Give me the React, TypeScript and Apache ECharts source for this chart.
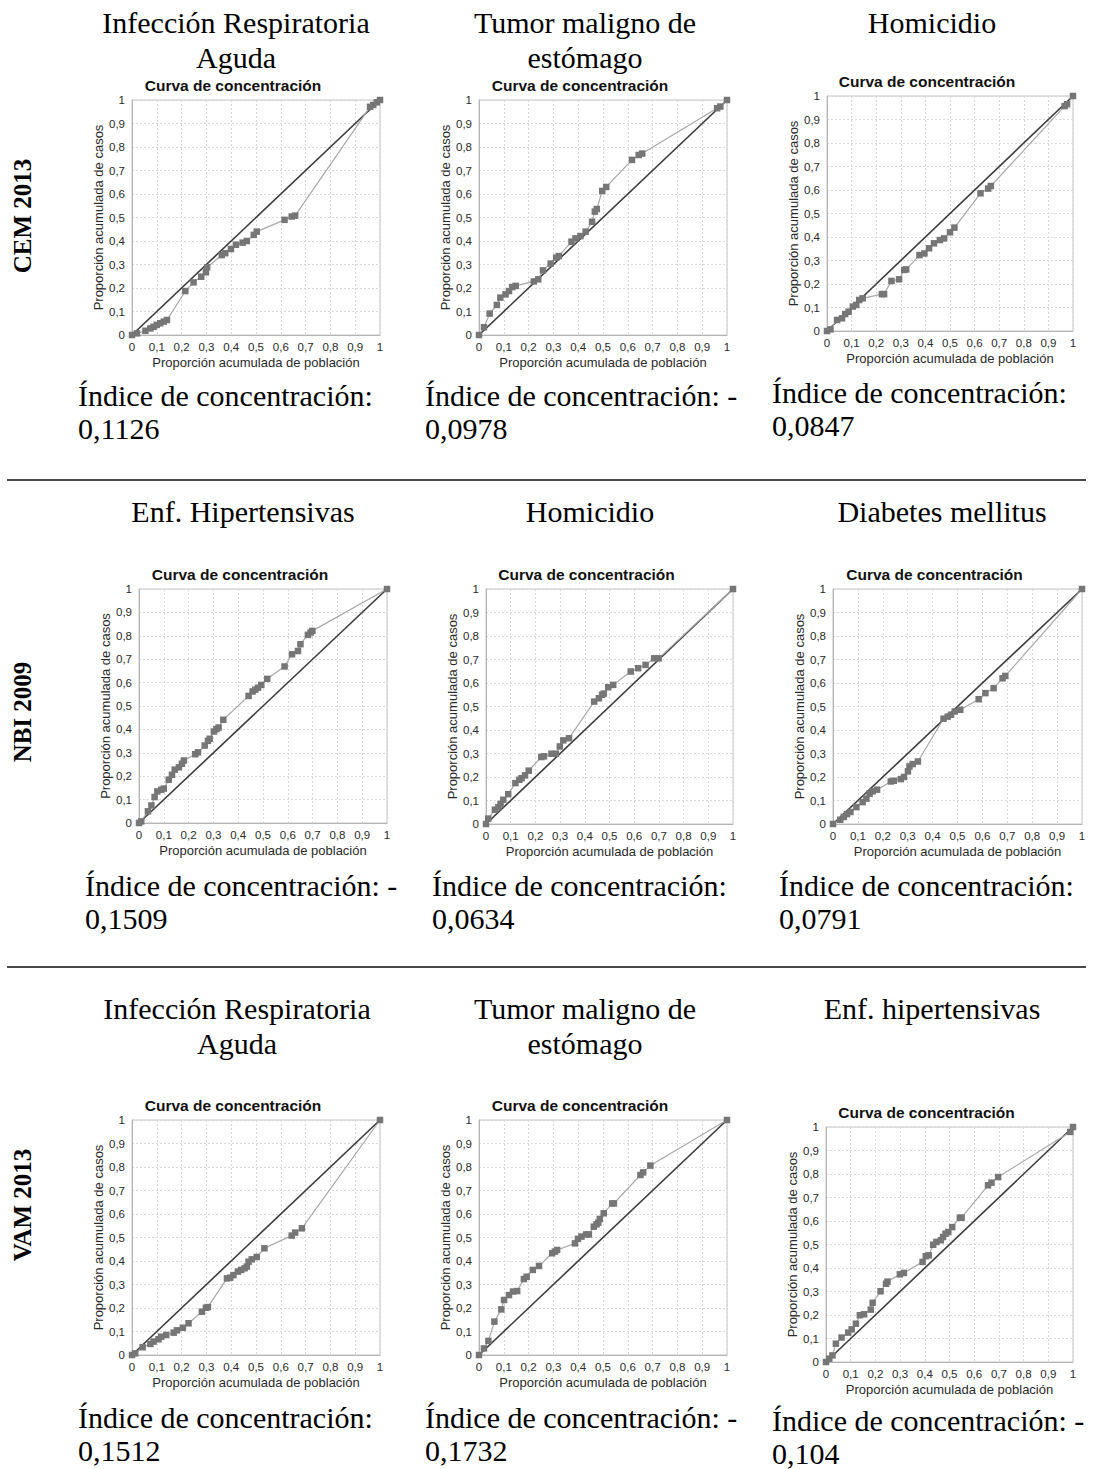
import React, { useEffect, useRef } from "react";
import * as echarts from "echarts";

// ---------- Data ----------
const rowLabels = ["CEM 2013", "NBI 2009", "VAM 2013"];

const headings = [
  ["Infección Respiratoria", "Aguda"],
  ["Tumor maligno de", "estómago"],
  ["Homicidio"],
  ["Enf. Hipertensivas"],
  ["Homicidio"],
  ["Diabetes mellitus"],
  ["Infección Respiratoria", "Aguda"],
  ["Tumor maligno de", "estómago"],
  ["Enf. hipertensivas"],
];

const indexTexts = [
  ["Índice de concentración:", "0,1126"],
  ["Índice de concentración: -", "0,0978"],
  ["Índice de concentración:", "0,0847"],
  ["Índice de concentración: -", "0,1509"],
  ["Índice de concentración:", "0,0634"],
  ["Índice de concentración:", "0,0791"],
  ["Índice de concentración:", "0,1512"],
  ["Índice de concentración: -", "0,1732"],
  ["Índice de concentración: -", "0,104"],
];

const tickLabels = ["0", "0,1", "0,2", "0,3", "0,4", "0,5", "0,6", "0,7", "0,8", "0,9", "1"];
const chartTitle = "Curva de concentración";
const xAxisName = "Proporción acumulada de población";
const yAxisName = "Proporción acumulada de casos";

const cemIraX = [0, 0.02, 0.054, 0.074, 0.087, 0.1, 0.114, 0.128, 0.141, 0.215, 0.248, 0.279, 0.298, 0.303, 0.362, 0.376, 0.399, 0.419, 0.446, 0.463, 0.491, 0.503, 0.615, 0.644, 0.658, 0.96, 0.973, 0.987, 1];
const cemIraY = [0, 0.007, 0.018, 0.028, 0.035, 0.043, 0.05, 0.057, 0.064, 0.187, 0.224, 0.248, 0.267, 0.288, 0.34, 0.348, 0.366, 0.384, 0.393, 0.4, 0.426, 0.44, 0.49, 0.504, 0.508, 0.971, 0.979, 0.99, 1];

const cemTumX = [0, 0.02, 0.043, 0.072, 0.086, 0.107, 0.121, 0.134, 0.148, 0.221, 0.239, 0.258, 0.289, 0.311, 0.322, 0.373, 0.389, 0.409, 0.43, 0.456, 0.467, 0.475, 0.497, 0.513, 0.617, 0.644, 0.658, 0.96, 0.973, 1];
const cemTumY = [0, 0.033, 0.091, 0.128, 0.159, 0.173, 0.187, 0.204, 0.209, 0.228, 0.237, 0.275, 0.304, 0.329, 0.336, 0.397, 0.411, 0.421, 0.44, 0.482, 0.525, 0.536, 0.613, 0.63, 0.745, 0.766, 0.772, 0.965, 0.972, 1];

const cemHomX = [0, 0.014, 0.041, 0.061, 0.074, 0.088, 0.105, 0.119, 0.131, 0.145, 0.223, 0.232, 0.262, 0.293, 0.314, 0.322, 0.376, 0.396, 0.415, 0.435, 0.459, 0.476, 0.5, 0.518, 0.624, 0.655, 0.666, 0.966, 0.976, 1];
const cemHomY = [0, 0.007, 0.047, 0.054, 0.072, 0.082, 0.104, 0.111, 0.132, 0.139, 0.157, 0.157, 0.213, 0.22, 0.26, 0.262, 0.323, 0.33, 0.352, 0.373, 0.387, 0.394, 0.42, 0.44, 0.586, 0.606, 0.617, 0.957, 0.965, 1];

const nbiHipX = [0, 0.009, 0.036, 0.05, 0.063, 0.074, 0.09, 0.1, 0.12, 0.133, 0.144, 0.161, 0.173, 0.181, 0.227, 0.238, 0.265, 0.278, 0.285, 0.302, 0.312, 0.321, 0.34, 0.442, 0.458, 0.469, 0.48, 0.493, 0.517, 0.587, 0.617, 0.641, 0.651, 0.681, 0.692, 0.699, 1];
const nbiHipY = [0, 0.007, 0.05, 0.075, 0.111, 0.135, 0.142, 0.147, 0.185, 0.206, 0.228, 0.238, 0.253, 0.267, 0.294, 0.302, 0.331, 0.351, 0.36, 0.391, 0.401, 0.408, 0.441, 0.543, 0.562, 0.57, 0.578, 0.59, 0.616, 0.669, 0.721, 0.735, 0.764, 0.804, 0.814, 0.821, 1];

const nbiHomX = [0, 0.009, 0.036, 0.05, 0.059, 0.07, 0.09, 0.119, 0.135, 0.144, 0.158, 0.173, 0.224, 0.235, 0.265, 0.283, 0.299, 0.313, 0.336, 0.438, 0.457, 0.47, 0.477, 0.495, 0.515, 0.586, 0.616, 0.646, 0.681, 0.699, 1];
const nbiHomY = [0, 0.023, 0.061, 0.071, 0.085, 0.103, 0.127, 0.174, 0.188, 0.195, 0.207, 0.227, 0.285, 0.288, 0.299, 0.299, 0.33, 0.356, 0.365, 0.521, 0.535, 0.55, 0.555, 0.582, 0.592, 0.649, 0.663, 0.677, 0.705, 0.705, 1];

const nbiDiaX = [0, 0.029, 0.043, 0.056, 0.07, 0.094, 0.119, 0.134, 0.147, 0.159, 0.177, 0.232, 0.244, 0.272, 0.285, 0.301, 0.307, 0.32, 0.341, 0.444, 0.461, 0.474, 0.489, 0.511, 0.585, 0.612, 0.645, 0.681, 0.692, 1];
const nbiDiaY = [0, 0.018, 0.03, 0.042, 0.051, 0.072, 0.093, 0.108, 0.129, 0.139, 0.146, 0.181, 0.184, 0.191, 0.2, 0.224, 0.245, 0.255, 0.266, 0.448, 0.457, 0.465, 0.479, 0.486, 0.531, 0.557, 0.578, 0.62, 0.63, 1];

const vamIraX = [0, 0.013, 0.043, 0.074, 0.087, 0.107, 0.118, 0.138, 0.168, 0.181, 0.205, 0.228, 0.282, 0.298, 0.306, 0.383, 0.396, 0.409, 0.427, 0.44, 0.454, 0.463, 0.47, 0.483, 0.503, 0.534, 0.644, 0.658, 0.685, 1];
const vamIraY = [0, 0.007, 0.033, 0.047, 0.057, 0.067, 0.078, 0.085, 0.095, 0.105, 0.116, 0.135, 0.184, 0.201, 0.204, 0.326, 0.329, 0.34, 0.355, 0.362, 0.369, 0.376, 0.397, 0.407, 0.417, 0.454, 0.508, 0.521, 0.539, 1];

const vamTumX = [0, 0.02, 0.038, 0.062, 0.09, 0.101, 0.121, 0.137, 0.154, 0.181, 0.192, 0.217, 0.242, 0.295, 0.306, 0.315, 0.387, 0.399, 0.413, 0.432, 0.443, 0.463, 0.474, 0.481, 0.487, 0.503, 0.537, 0.544, 0.651, 0.662, 0.691, 1];
const vamTumY = [0, 0.028, 0.06, 0.142, 0.194, 0.234, 0.255, 0.27, 0.272, 0.323, 0.333, 0.362, 0.379, 0.433, 0.44, 0.447, 0.475, 0.494, 0.504, 0.513, 0.513, 0.546, 0.556, 0.563, 0.579, 0.603, 0.645, 0.645, 0.766, 0.777, 0.806, 1];

const vamHipX = [0, 0.013, 0.026, 0.04, 0.063, 0.09, 0.104, 0.121, 0.137, 0.154, 0.181, 0.189, 0.221, 0.243, 0.249, 0.299, 0.315, 0.391, 0.404, 0.416, 0.434, 0.447, 0.465, 0.474, 0.484, 0.495, 0.511, 0.542, 0.549, 0.656, 0.67, 0.697, 0.989, 1];
const vamHipY = [0, 0.014, 0.028, 0.078, 0.104, 0.125, 0.139, 0.163, 0.199, 0.203, 0.223, 0.252, 0.301, 0.333, 0.342, 0.373, 0.379, 0.426, 0.45, 0.454, 0.499, 0.511, 0.518, 0.532, 0.546, 0.553, 0.574, 0.614, 0.614, 0.752, 0.763, 0.787, 0.979, 1];

const seriesX = [cemIraX, cemTumX, cemHomX, nbiHipX, nbiHomX, nbiDiaX, vamIraX, vamTumX, vamHipX];
const seriesY = [cemIraY, cemTumY, cemHomY, nbiHipY, nbiHomY, nbiDiaY, vamIraY, vamTumY, vamHipY];

// ---------- Layout ----------
const grids = [
  { left: 132, top: 100, width: 248, height: 235 },
  { left: 479, top: 100, width: 248, height: 235 },
  { left: 827, top: 96, width: 246, height: 235 },
  { left: 139, top: 589, width: 248, height: 234 },
  { left: 486, top: 589, width: 247, height: 235 },
  { left: 833, top: 589, width: 249, height: 235 },
  { left: 132, top: 1120, width: 248, height: 235 },
  { left: 479, top: 1120, width: 248, height: 235 },
  { left: 826, top: 1127, width: 247, height: 235 },
];
const headingPos = [
  { x: 236, y: 22 }, { x: 585, y: 22 }, { x: 932, y: 22 },
  { x: 243, y: 511 }, { x: 590, y: 511 }, { x: 942, y: 511 },
  { x: 237, y: 1008 }, { x: 585, y: 1008 }, { x: 932, y: 1008 },
];
const indexPos = [
  { x: 78, y: 395 }, { x: 425, y: 395 }, { x: 772, y: 392 },
  { x: 85, y: 885 }, { x: 432, y: 885 }, { x: 779, y: 885 },
  { x: 78, y: 1417 }, { x: 425, y: 1417 }, { x: 772, y: 1420 },
];
const rowLabelPos = [
  { x: 22, y: 216 }, { x: 22, y: 712 }, { x: 22, y: 1205 },
];
const separatorsY = [480, 967];

const SERIF = '"Liberation Serif", "Times New Roman", serif';
const SANS = '"Liberation Sans", Arial, sans-serif';

function fmt(v: number) {
  const i = Math.round(v * 10);
  return tickLabels[i] ?? String(v);
}

export default function App() {
  const ref = useRef<HTMLDivElement>(null);
  useEffect(() => {
    if (!ref.current) return;
    const chart = echarts.init(ref.current, null, { renderer: "svg" });

    const xAxes: any[] = [];
    const yAxes: any[] = [];
    const series: any[] = [];
    const graphics: any[] = [];

    grids.forEach((g, i) => {
      const common = {
        gridIndex: i,
        type: "value",
        min: 0,
        max: 1,
        interval: 0.1,
        axisLine: { show: true, lineStyle: { color: "#b5b5b5", width: 1 } },
        axisTick: { show: false },
        splitLine: { show: true, lineStyle: { color: "#d8d8d8", type: [2, 2], width: 1 } },
        axisLabel: { formatter: fmt, fontSize: 11.5, fontFamily: SANS, color: "#2a2a2a" },
        nameLocation: "middle",
        nameTextStyle: { fontSize: 13, fontFamily: SANS, color: "#2a2a2a" },
      };
      xAxes.push({
        ...common,
        name: xAxisName,
        nameGap: 21,
        axisLabel: { ...common.axisLabel, margin: 6 },
      });
      yAxes.push({
        ...common,
        name: yAxisName,
        nameGap: 27,
        axisLabel: { ...common.axisLabel, margin: 7 },
      });
      series.push({
        type: "line",
        xAxisIndex: i,
        yAxisIndex: i,
        data: [[0, 0], [1, 1]],
        symbol: "none",
        lineStyle: { color: "#3c3c3c", width: 1.6 },
        z: 3,
        silent: true,
      });
      series.push({
        type: "line",
        xAxisIndex: i,
        yAxisIndex: i,
        data: seriesX[i].map((x, j) => [x, seriesY[i][j]]),
        symbol: "rect",
        symbolSize: 6.5,
        itemStyle: { color: "#767676" },
        lineStyle: { color: "#a8a8a8", width: 1.2 },
        z: 4,
        silent: true,
      });
      graphics.push({
        type: "text",
        x: g.left + g.width / 2 - 23,
        y: g.top - 15,
        style: {
          text: chartTitle,
          font: `bold 15.5px ${SANS}`,
          fill: "#111",
          align: "center",
          verticalAlign: "middle",
        },
      });
      headings[i].forEach((line, k) => {
        graphics.push({
          type: "text",
          x: headingPos[i].x,
          y: headingPos[i].y + k * 35,
          style: {
            text: line,
            font: `30px ${SERIF}`,
            fill: "#000",
            align: "center",
            verticalAlign: "middle",
          },
        });
      });
      indexTexts[i].forEach((line, k) => {
        graphics.push({
          type: "text",
          x: indexPos[i].x,
          y: indexPos[i].y + k * 33,
          style: {
            text: line,
            font: `30px ${SERIF}`,
            fill: "#000",
            align: "left",
            verticalAlign: "middle",
          },
        });
      });
    });

    rowLabels.forEach((lab, r) => {
      graphics.push({
        type: "text",
        x: rowLabelPos[r].x,
        y: rowLabelPos[r].y,
        rotation: Math.PI / 2,
        style: {
          text: lab,
          font: `bold 25px ${SERIF}`,
          fill: "#000",
          align: "center",
          verticalAlign: "middle",
        },
      });
    });

    separatorsY.forEach((y) => {
      graphics.push({
        type: "line",
        shape: { x1: 7, y1: y, x2: 1086, y2: y },
        style: { stroke: "#4a4a4a", lineWidth: 2 },
      });
    });

    chart.setOption({
      animation: false,
      backgroundColor: "#fff",
      grid: grids.map((g) => ({
        ...g,
        show: true,
        borderColor: "#c4c4c4",
        borderWidth: 1,
        backgroundColor: "#fff",
        containLabel: false,
      })),
      xAxis: xAxes,
      yAxis: yAxes,
      series,
      graphic: graphics,
    });

    return () => chart.dispose();
  }, []);

  return (
    <div
      ref={ref}
      style={{ position: "absolute", left: 0, top: 0, width: 1093, height: 1469 }}
    />
  );
}
